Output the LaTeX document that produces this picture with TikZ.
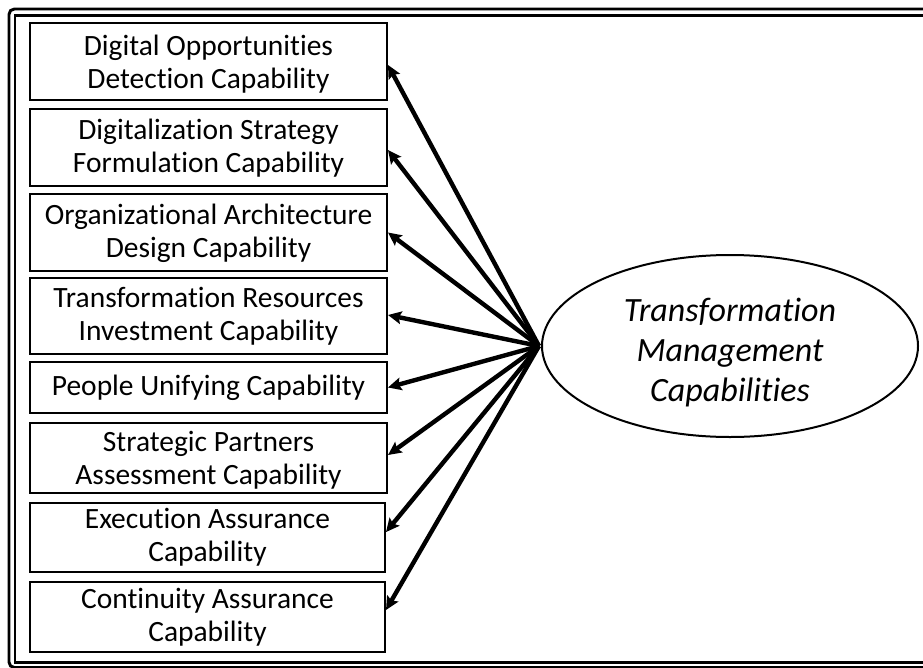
\documentclass[tikz,border=0pt]{standalone}
\usepackage{fontspec}
\setmainfont{Carlito}[Ligatures=NoCommon]
\usetikzlibrary{arrows.meta,shapes.geometric}
\newcommand{\myshifted}[2]{\raisebox{#1}[\height][\depth]{\begin{tabular}{@{}c@{}}#2\end{tabular}}}
\begin{document}
\begin{tikzpicture}[x=0.75pt,y=-0.75pt,
  capbox/.style={draw, line width=1.5pt, minimum width=267.75pt, inner sep=0pt, align=center,
    font=\fontsize{22.1}{24.8}\selectfont},
  link/.style={line width=3.3pt, -{Stealth[length=10pt,width=9.5pt,inset=1.8pt]}},
  frameA/.style={line width=2.2pt, rounded corners=4pt},
  frameB/.style={line width=1.6pt}
]
\useasboundingbox (0,0) rectangle (923,667);
\clip (0,0) rectangle (923,667);
\draw[frameA] (9,9) rectangle (960,667.5);
\draw[frameB] (15,15.5) rectangle (960,662.5);

\node[capbox, minimum height=57.75pt] (b1) at (208.5,61.5) {\myshifted{-2.8pt}{Digital Opportunities\\Detection Capability}};
\node[capbox, minimum height=57.75pt] (b2) at (208.5,147.5) {\myshifted{-1.2pt}{Digitalization Strategy\\Formulation Capability}};
\node[capbox, minimum height=57.75pt] (b3) at (208.5,232.5) {\myshifted{-1.5pt}{Organizational Architecture\\Design Capability}};
\node[capbox, minimum height=57pt] (b4) at (208.5,316) {\myshifted{-1.2pt}{Transformation Resources\\Investment Capability}};
\node[capbox, minimum height=38.25pt] (b5) at (208.5,387.5) {\myshifted{-1.2pt}{People Unifying Capability}};
\node[capbox, minimum height=52.5pt] (b6) at (208.5,458) {\myshifted{-2.5pt}{Strategic Partners\\Assessment Capability}};
\node[capbox, minimum height=51.75pt, minimum width=266.25pt] (b7) at (207.5,537.5) {\myshifted{-0.8pt}{Execution Assurance\\Capability}};
\node[capbox, minimum height=52.5pt, minimum width=266.25pt] (b8) at (207.5,617) {\myshifted{-1.2pt}{Continuity Assurance\\Capability}};

\node[draw, ellipse, line width=1.5pt, minimum width=282pt, minimum height=136.5pt, inner sep=0pt,
  font=\fontsize{25.5}{30}\selectfont\itshape] (tm) at (730,346)
  {\myshifted{-5.5pt}{Transformation\\Management\\Capabilities}};

\coordinate (c) at (539,346);
\draw[link] (c) -- ([yshift=-2.6pt]b1.east);
\draw[link] (c) -- ([yshift=-1.9pt]b2.east);
\draw[link] (c) -- (b3.east);
\draw[link] (c) -- ([yshift=0.75pt]b4.east);
\draw[link] (c) -- (b5.east);
\draw[link] (c) -- ([yshift=2.25pt]b6.east);
\draw[link] (c) -- ([yshift=4.1pt]b7.east);
\draw[link] (c) -- ([yshift=5.25pt]b8.east);
\end{tikzpicture}
\end{document}
